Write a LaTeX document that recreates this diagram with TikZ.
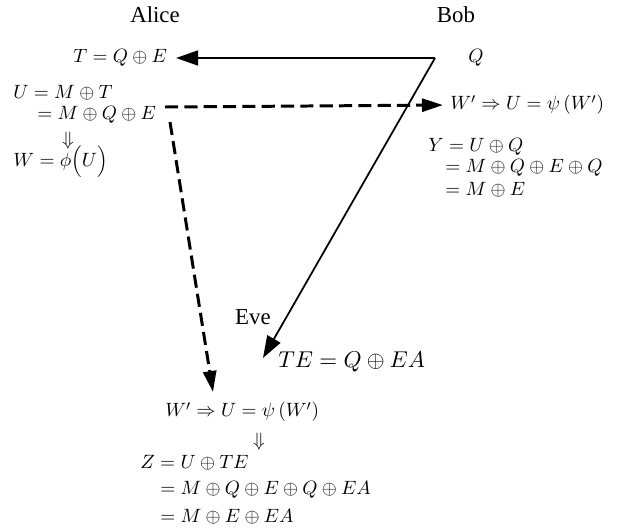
\documentclass[tikz,border=0pt]{standalone}
\usepackage{fontspec}
\usepackage{graphicx}
\setmainfont{Liberation Serif}
\usetikzlibrary{arrows.meta}
\begin{document}
\begin{tikzpicture}[x=0.02cm,y=-0.02cm]
  \tikzset{eq/.style={anchor=west,inner sep=0pt,font=\fontsize{11}{13}\selectfont},
    who/.style={inner sep=0pt,font=\fontsize{13}{15}\selectfont},
    msg/.style={line width=1pt,-{Triangle[length=4.4mm,width=3mm]}},
    leak/.style={line width=1.7pt,dash pattern=on 7.5pt off 3.5pt,-{Triangle[length=4.2mm,width=2.6mm]}}}
  \useasboundingbox (0,0) rectangle (629,531);
  \node[who] (alice) at (155,15) {Alice};
  \node[who] (bob) at (456,15) {Bob};
  \node[who] (eve) at (253,317) {Eve};
  % Alice side
  \node[eq] (t) at (73,58) {$T=Q\oplus E$};
  \node[eq] (u1) at (13,93) {$U=M\oplus T$};
  \node[eq] (u2) at (37,115) {$=M\oplus Q\oplus E$};
  \node[eq,anchor=center] (da) at (68,141) {$\Downarrow$};
  \node[eq] (w) at (13,162) {$W=\phi\Big(U\Big)$};
  % Bob side
  \node[eq] (q) at (468,58) {$Q$};
  \node[eq] (wb) at (450,105) {$W'\Rightarrow U=\psi\left(W'\right)$};
  \node[eq] (y1) at (428,147) {$Y=U\oplus Q$};
  \node[eq] (y2) at (445,168) {$=M\oplus Q\oplus E\oplus Q$};
  \node[eq] (y3) at (445,190) {$=M\oplus E$};
  % Eve
  \node[eq] (te) at (278,362) {\scalebox{1.19}{$TE=Q\oplus EA$}};
  % bottom
  \node[eq] (wz) at (165,412) {$W'\Rightarrow U=\psi\left(W'\right)$};
  \node[eq,anchor=center] (dz) at (259,442) {$\Downarrow$};
  \node[eq] (z1) at (140,463) {$Z=U\oplus TE$};
  \node[eq] (z2) at (160,490) {$=M\oplus Q\oplus E\oplus Q\oplus EA$};
  \node[eq] (z3) at (160,517) {$=M\oplus E\oplus EA$};
  \coordinate (qc) at (435,58);
  \coordinate (evetip) at (263,358);
  \coordinate (ud) at (165,107);
  \coordinate (uv) at (170,122);
  \coordinate (ztip) at (213,392);
  \draw[msg,shorten >=5pt] (qc) -- (t.east);
  \draw[msg] (qc) -- (evetip);
  \draw[leak,shorten >=4pt] (ud) -- (wb.west);
  \draw[leak] (uv) -- (ztip);
\end{tikzpicture}
\end{document}
